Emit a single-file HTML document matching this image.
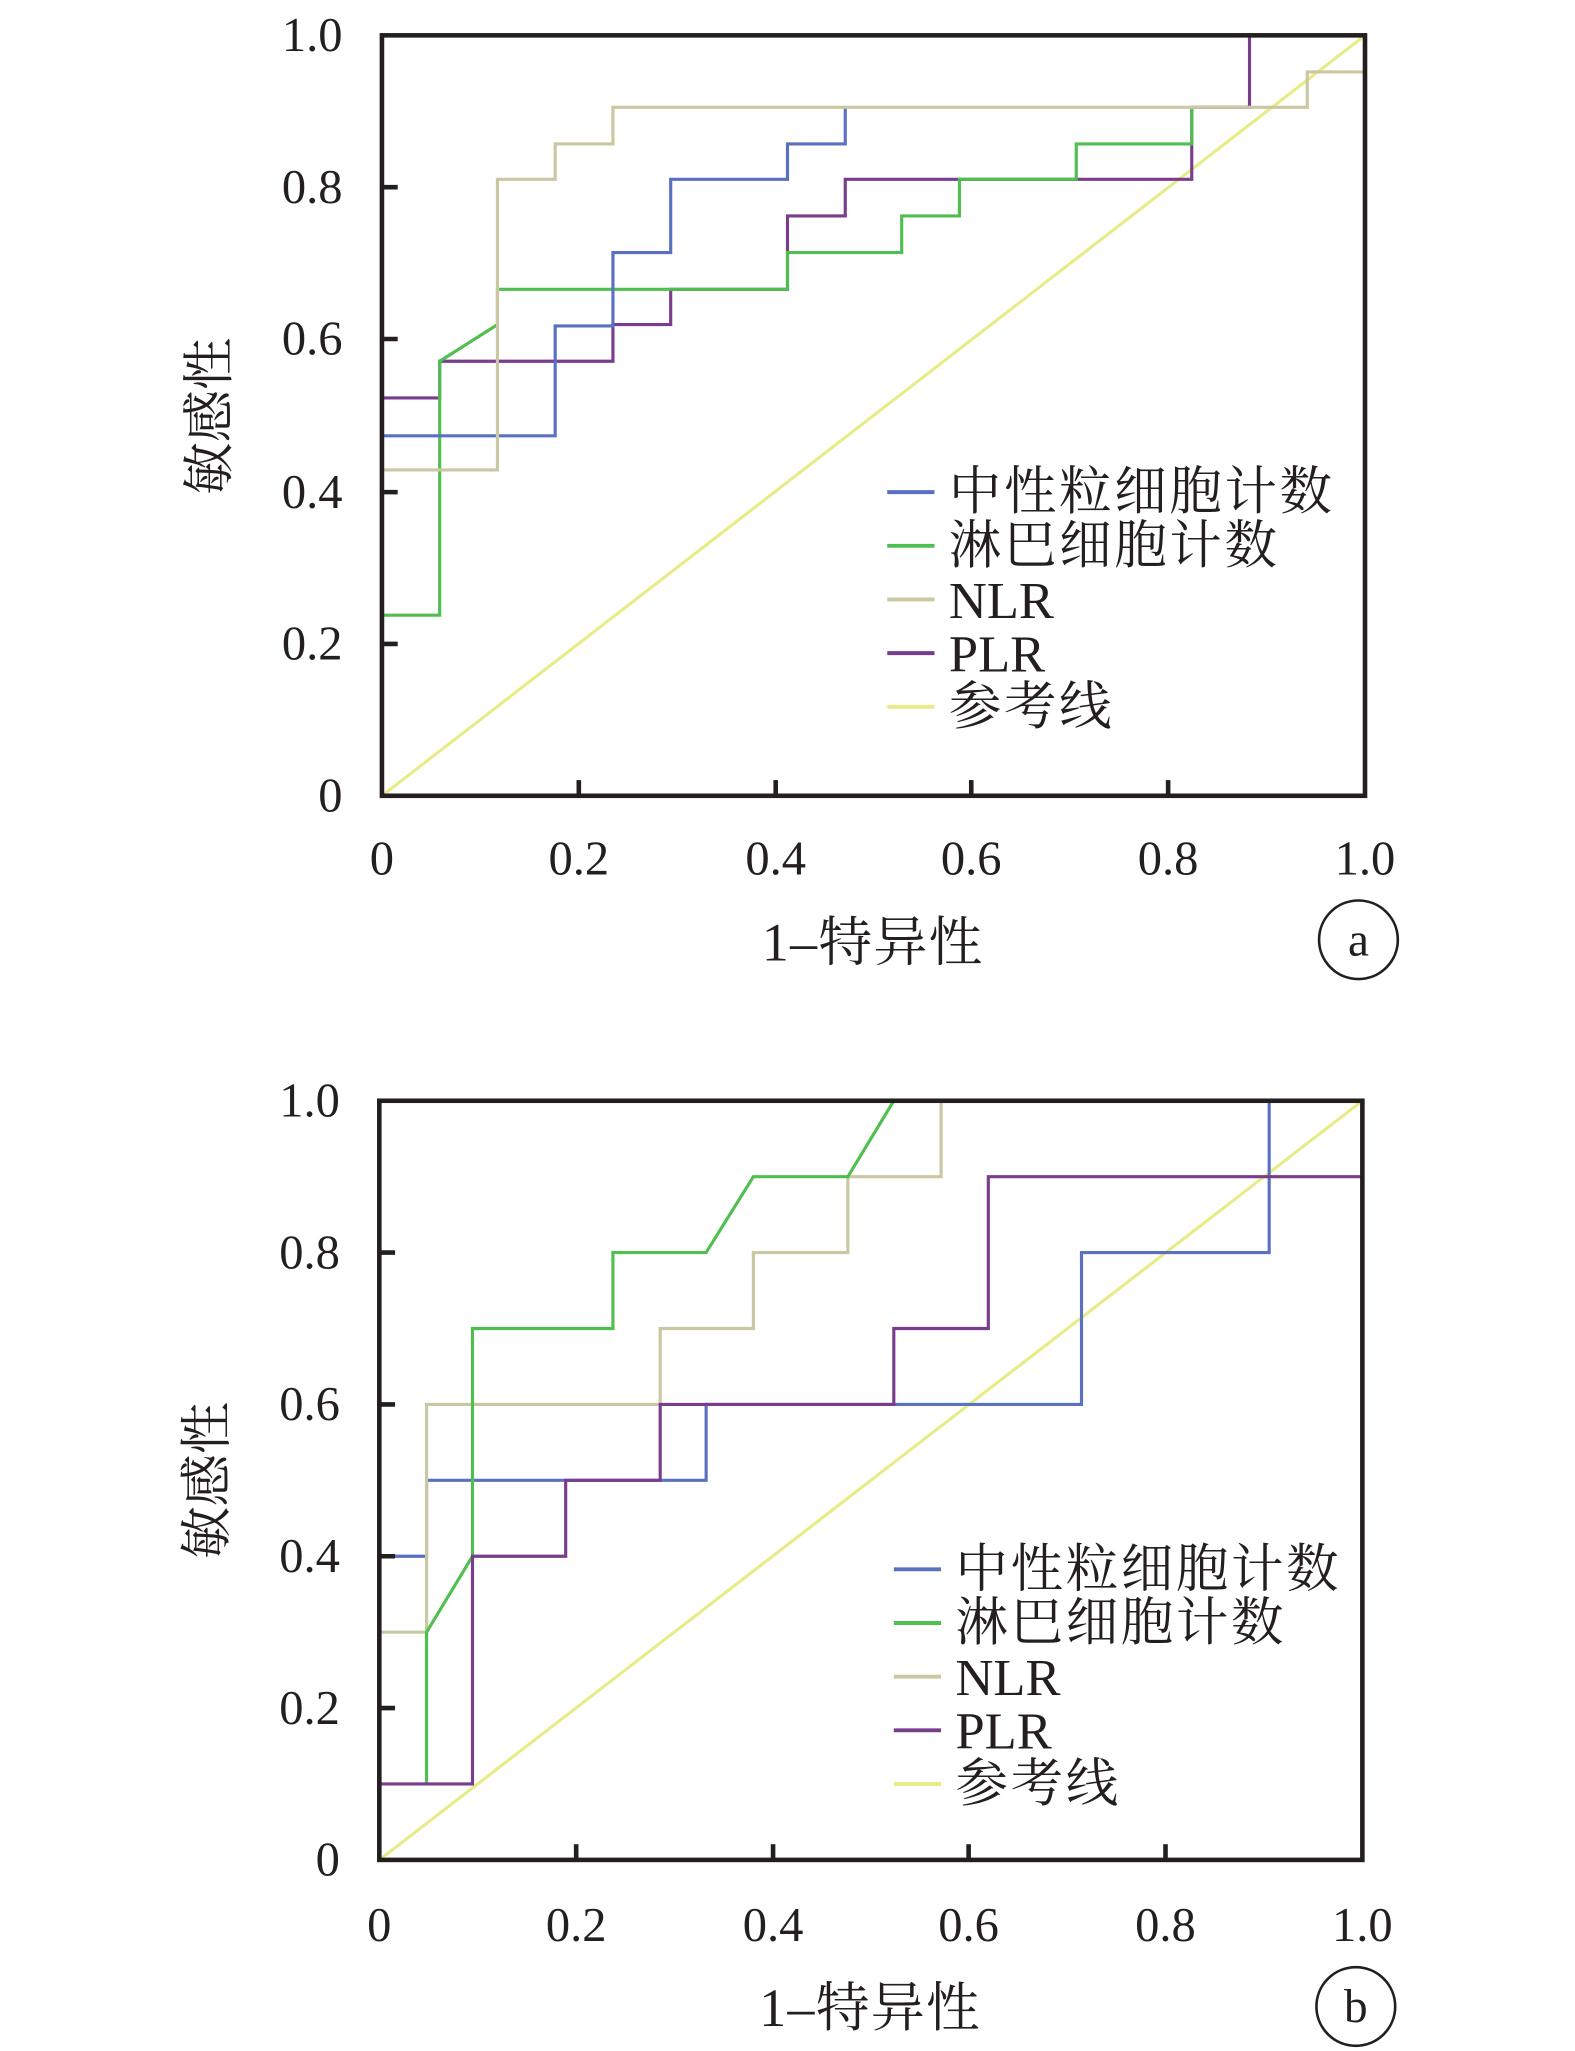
<!DOCTYPE html>
<html><head><meta charset="utf-8"><style>html,body{margin:0;padding:0;background:#fff}svg{display:block}</style></head>
<body>
<svg width="1575" height="2051" viewBox="0 0 1200 1567" preserveAspectRatio="none" xmlns="http://www.w3.org/2000/svg" font-family="'Liberation Serif','Noto Serif CJK SC',serif" fill="#231f20">
<!-- Plot a -->
<g transform="translate(291,608)">
 <g fill="none" stroke-width="2.4">
  <polyline stroke="#e8ec88" points="0,0 749,-581"/>
  <polyline stroke="#7a3c8c" points="0,-304 44,-304 44,-332 176,-332 176,-360 220,-360 220,-387 309,-387 309,-443 353,-443 353,-471 617,-471 617,-526 661,-526 661,-581"/>
  <polyline stroke="#4fbf4f" points="0,-138 44,-138 44,-332 88,-360 88,-387 309,-387 309,-415 396,-415 396,-443 440,-443 440,-471 529,-471 529,-498 617,-498 617,-526"/>
  <polyline stroke="#5a70c0" points="0,-275 132,-275 132,-359 176,-359 176,-415 220,-415 220,-471 309,-471 309,-498 353,-498 353,-526"/>
  <polyline stroke="#c9c8a2" points="0,-249 88,-249 88,-471 132,-471 132,-498 176,-498 176,-526 705,-526 705,-553 749,-553"/>
 </g>
 <rect x="0" y="-581" width="749" height="581" fill="none" stroke="#231f20" stroke-width="3.5"/>
 <g stroke="#231f20" stroke-width="3.5">
  <line x1="150" y1="0" x2="150" y2="-12"/><line x1="300" y1="0" x2="300" y2="-12"/><line x1="449" y1="0" x2="449" y2="-12"/><line x1="599" y1="0" x2="599" y2="-12"/>
  <line x1="0" y1="-116" x2="12" y2="-116"/><line x1="0" y1="-232" x2="12" y2="-232"/><line x1="0" y1="-349" x2="12" y2="-349"/><line x1="0" y1="-465" x2="12" y2="-465"/>
 </g>
 <g font-size="37" text-anchor="end">
  <text x="-30" y="12">0</text><text x="-30" y="-104">0.2</text><text x="-30" y="-220">0.4</text><text x="-30" y="-337">0.6</text><text x="-30" y="-453">0.8</text><text x="-30" y="-569">1.0</text>
 </g>
 <g font-size="37" text-anchor="middle">
  <text x="0" y="60">0</text><text x="150" y="60">0.2</text><text x="300" y="60">0.4</text><text x="449" y="60">0.6</text><text x="599" y="60">0.8</text><text x="749" y="60">1.0</text>
 </g>
 <text x="374" y="126" font-size="41" text-anchor="middle" letter-spacing="1">1–特异性</text>
 <circle cx="744" cy="110" r="30" fill="none" stroke="#231f20" stroke-width="2"/>
 <text x="744" y="122" font-size="36" text-anchor="middle">a</text>
 <text transform="translate(-118,-290) rotate(-90)" font-size="40" text-anchor="middle">敏感性</text>
 <g stroke-width="3">
  <line x1="385" y1="-232" x2="421" y2="-232" stroke="#5a70c0"/>
  <line x1="385" y1="-191" x2="421" y2="-191" stroke="#4fbf4f"/>
  <line x1="385" y1="-150" x2="421" y2="-150" stroke="#c9c8a2"/>
  <line x1="385" y1="-109" x2="421" y2="-109" stroke="#7a3c8c"/>
  <line x1="385" y1="-68" x2="421" y2="-68" stroke="#e8ec88"/>
 </g>
 <g font-size="40">
  <text x="432" y="-219" letter-spacing="2">中性粒细胞计数</text><text x="432" y="-178" letter-spacing="2">淋巴细胞计数</text><text x="432" y="-136">NLR</text><text x="432" y="-95">PLR</text><text x="432" y="-55" letter-spacing="2">参考线</text>
 </g>
</g>
<!-- Plot b -->
<g transform="translate(289,1421)">
 <g fill="none" stroke-width="2.4">
  <polyline stroke="#e8ec88" points="0,0 749,-580"/>
  <polyline stroke="#5a70c0" points="0,0 0,-232 36,-232 36,-290 249,-290 249,-348 535,-348 535,-464 678,-464 678,-580"/>
  <polyline stroke="#c9c8a2" points="0,-174 36,-174 36,-348 214,-348 214,-406 285,-406 285,-464 357,-464 357,-522 428,-522 428,-580"/>
  <polyline stroke="#4fbf4f" points="36,-58 36,-174 71,-232 71,-406 178,-406 178,-464 249,-464 285,-522 357,-522 392,-580"/>
  <polyline stroke="#7a3c8c" points="0,-58 71,-58 71,-232 142,-232 142,-290 214,-290 214,-348 392,-348 392,-406 464,-406 464,-522 749,-522"/>
 </g>
 <rect x="0" y="-580" width="749" height="580" fill="none" stroke="#231f20" stroke-width="3.5"/>
 <g stroke="#231f20" stroke-width="3.5">
  <line x1="150" y1="0" x2="150" y2="-12"/><line x1="300" y1="0" x2="300" y2="-12"/><line x1="449" y1="0" x2="449" y2="-12"/><line x1="599" y1="0" x2="599" y2="-12"/>
  <line x1="0" y1="-116" x2="12" y2="-116"/><line x1="0" y1="-232" x2="12" y2="-232"/><line x1="0" y1="-348" x2="12" y2="-348"/><line x1="0" y1="-464" x2="12" y2="-464"/>
 </g>
 <g font-size="37" text-anchor="end">
  <text x="-30" y="12">0</text><text x="-30" y="-104">0.2</text><text x="-30" y="-220">0.4</text><text x="-30" y="-336">0.6</text><text x="-30" y="-452">0.8</text><text x="-30" y="-568">1.0</text>
 </g>
 <g font-size="37" text-anchor="middle">
  <text x="0" y="62">0</text><text x="150" y="62">0.2</text><text x="300" y="62">0.4</text><text x="449" y="62">0.6</text><text x="599" y="62">0.8</text><text x="749" y="62">1.0</text>
 </g>
 <text x="374" y="127" font-size="41" text-anchor="middle" letter-spacing="1">1–特异性</text>
 <circle cx="744" cy="112" r="30" fill="none" stroke="#231f20" stroke-width="2"/>
 <text x="744" y="124" font-size="36" text-anchor="middle">b</text>
 <text transform="translate(-118,-290) rotate(-90)" font-size="40" text-anchor="middle">敏感性</text>
 <g stroke-width="3">
  <line x1="392" y1="-222" x2="428" y2="-222" stroke="#5a70c0"/>
  <line x1="392" y1="-181" x2="428" y2="-181" stroke="#4fbf4f"/>
  <line x1="392" y1="-140" x2="428" y2="-140" stroke="#c9c8a2"/>
  <line x1="392" y1="-99" x2="428" y2="-99" stroke="#7a3c8c"/>
  <line x1="392" y1="-58" x2="428" y2="-58" stroke="#e8ec88"/>
 </g>
 <g font-size="40">
  <text x="439" y="-209" letter-spacing="2">中性粒细胞计数</text><text x="439" y="-168" letter-spacing="2">淋巴细胞计数</text><text x="439" y="-126">NLR</text><text x="439" y="-85">PLR</text><text x="439" y="-45" letter-spacing="2">参考线</text>
 </g>
</g>
</svg>
</body></html>
